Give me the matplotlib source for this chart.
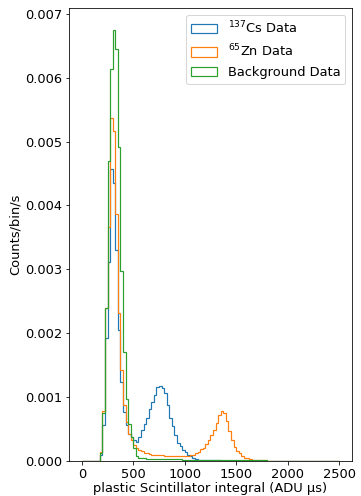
import matplotlib
matplotlib.use("Agg")
import matplotlib.pyplot as plt
import numpy as np

bin_edges = list(range(0, 2525, 25))

cs_counts = [
    0, 0, 0, 0, 0, 0, 0, 0.00010, 0.00056, 0.00192,
    0.00311, 0.00457, 0.00435, 0.00330, 0.00205, 0.00124, 0.00077, 0.00056, 0.00043, 0.00038,
    0.00033, 0.00030, 0.00038, 0.00048, 0.00058, 0.00067, 0.00082, 0.00093, 0.00103, 0.00116,
    0.00118, 0.00114, 0.00106, 0.00088, 0.00067, 0.00055, 0.00040, 0.00028, 0.00023, 0.00017,
    0.00014, 0.00010, 0.00008, 0.00005, 0.00003, 0.00002, 0.00002, 0.00001, 0.00001, 0.00001,
    0.00001, 0.00001, 0.00001, 0.00001, 0.000005, 0.000005, 0, 0, 0, 0,
    0, 0, 0, 0, 0, 0, 0, 0, 0, 0,
    0, 0, 0, 0, 0, 0, 0, 0, 0, 0,
    0, 0, 0, 0, 0, 0, 0, 0, 0, 0,
    0, 0, 0, 0, 0, 0, 0, 0, 0, 0,
]

zn_counts = [
    0, 0, 0, 0, 0, 0, 0, 0.00014, 0.00078, 0.00240,
    0.00366, 0.00537, 0.00517, 0.00387, 0.00231, 0.00142, 0.00088, 0.00061, 0.00043, 0.00033,
    0.00025, 0.00020, 0.00017, 0.00015, 0.00013, 0.00012, 0.00011, 0.00010, 0.00010, 0.00009,
    0.00009, 0.00009, 0.00008, 0.00008, 0.00008, 0.00008, 0.00008, 0.00008, 0.00008, 0.00008,
    0.00008, 0.00008, 0.00009, 0.00010, 0.00012, 0.00014, 0.00018, 0.00021, 0.00026, 0.00033,
    0.00040, 0.00049, 0.00060, 0.00072, 0.00078, 0.00075, 0.00062, 0.00047, 0.00033, 0.00022,
    0.00016, 0.00012, 0.00008, 0.00005, 0.00004, 0.00003, 0.00002, 0.00002, 0.00001, 0.00001,
    0.00001, 0.00001, 0.000005, 0.000005, 0, 0, 0, 0, 0, 0,
    0, 0, 0, 0, 0, 0, 0, 0, 0, 0,
    0, 0, 0, 0, 0, 0, 0, 0, 0, 0,
]

bg_counts = [
    0, 0, 0, 0, 0, 0, 0, 0.000125, 0.00075, 0.00239,
    0.00469, 0.00614, 0.00675, 0.00645, 0.00491, 0.00298, 0.00171, 0.00097, 0.00058, 0.00038,
    0.00020, 0.00008, 0.00005, 0.00004, 0.00004, 0.00003, 0.00003, 0.00003, 0.00003, 0.00003,
    0.00003, 0.00003, 0.00003, 0.00003, 0.00003, 0.00003, 0.00003, 0.00003, 0.00003, 0.00002,
    0.00002, 0.00002, 0.00002, 0.00002, 0.00002, 0.00002, 0.00002, 0.00002, 0.00002, 0.00002,
    0.00002, 0.00002, 0.00002, 0.00002, 0.00002, 0.00002, 0.00002, 0.00002, 0.00002, 0.00002,
    0.00002, 0.00002, 0.00002, 0.00002, 0.00002, 0.00001, 0.00001, 0.00001, 0.00001, 0.00001,
    0.00001, 0.00001, 0.000005, 0.000005, 0, 0, 0, 0, 0, 0,
    0, 0, 0, 0, 0, 0, 0, 0, 0, 0,
    0, 0, 0, 0, 0, 0, 0, 0, 0, 0,
]

labels = [r"$^{137}$Cs Data", r"$^{65}$Zn Data", "Background Data"]

plt.rcParams['font.size'] = 13

DPI = 72
fig = plt.figure(figsize=(361 / DPI, 496 / DPI), dpi=DPI)
ax = fig.add_axes([0.191, 0.0706, 0.784, 0.913])

edges = np.array(bin_edges, dtype=float)
centers = 0.5 * (edges[:-1] + edges[1:])
for counts, lab in zip([cs_counts, zn_counts, bg_counts], labels):
    ax.hist(centers, bins=edges, weights=counts, histtype='step', label=lab,
            linewidth=1.2)

ax.set_xlabel("plastic Scintillator integral (ADU μs)", labelpad=1.5)
ax.set_ylabel("Counts/bin/s", labelpad=3)
ax.set_xticks([0, 500, 1000, 1500, 2000, 2500])
ax.legend(loc='upper right')

fig.savefig("out.png", dpi=DPI)
